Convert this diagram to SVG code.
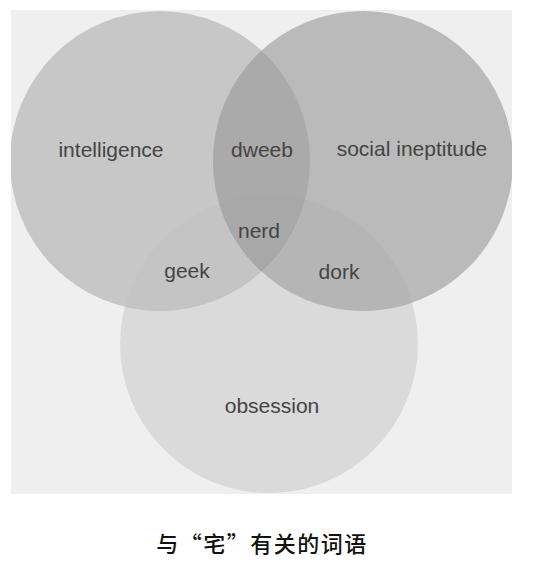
<svg xmlns="http://www.w3.org/2000/svg" width="546" height="562" viewBox="0 0 546 562">
  <defs>
    <clipPath id="clipL"><circle cx="160" cy="161" r="150"/></clipPath>
    <clipPath id="clipR"><circle cx="363" cy="161" r="150"/></clipPath>
    <clipPath id="clipB"><circle cx="269" cy="344" r="149"/></clipPath>
    <clipPath id="clipPanel"><rect x="11" y="10" width="501" height="484"/></clipPath>
  </defs>
  <style>
    .lbl { font-family: "Liberation Sans", Arial, sans-serif; font-size: 21px; fill: #444444; text-anchor: middle; }
    .cap { font-family: "Noto Sans CJK SC", "Noto Sans", sans-serif; font-size: 22px; fill: #111; text-anchor: middle; font-weight: 500; letter-spacing: 1.5px; }
  </style>
  <rect width="546" height="562" fill="#ffffff"/>
  <rect x="11" y="10" width="501" height="484" fill="#efefef"/>
  <g clip-path="url(#clipPanel)">
    <g id="obsession-circle">
      <circle cx="269" cy="344" r="149" fill="#dadada"/>
    </g>
    <g id="intelligence-circle">
      <circle cx="160" cy="161" r="150" fill="#c7c7c7"/>
    </g>
    <g id="social-circle">
      <circle cx="363" cy="161" r="150" fill="#bababa"/>
    </g>
    <g id="overlaps">
      <g clip-path="url(#clipB)">
        <circle cx="160" cy="161" r="150" fill="#c4c4c4"/>
        <circle cx="363" cy="161" r="150" fill="#b5b5b5"/>
      </g>
      <g clip-path="url(#clipL)">
        <circle cx="363" cy="161" r="150" fill="#aaaaaa"/>
      </g>
      <g clip-path="url(#clipL)">
        <g clip-path="url(#clipB)">
          <circle cx="363" cy="161" r="150" fill="#a8a8a8"/>
        </g>
      </g>
    </g>
  </g>
  <g id="labels">
    <text class="lbl" x="111" y="157">intelligence</text>
    <text class="lbl" x="262" y="157">dweeb</text>
    <text class="lbl" x="412" y="156">social ineptitude</text>
    <text class="lbl" x="259" y="238">nerd</text>
    <text class="lbl" x="187" y="278">geek</text>
    <text class="lbl" x="339" y="279">dork</text>
    <text class="lbl" x="272" y="413">obsession</text>
  </g>
  <g id="connectors"></g>
  <text class="cap" x="262" y="552">与“宅”有关的词语</text>
</svg>
